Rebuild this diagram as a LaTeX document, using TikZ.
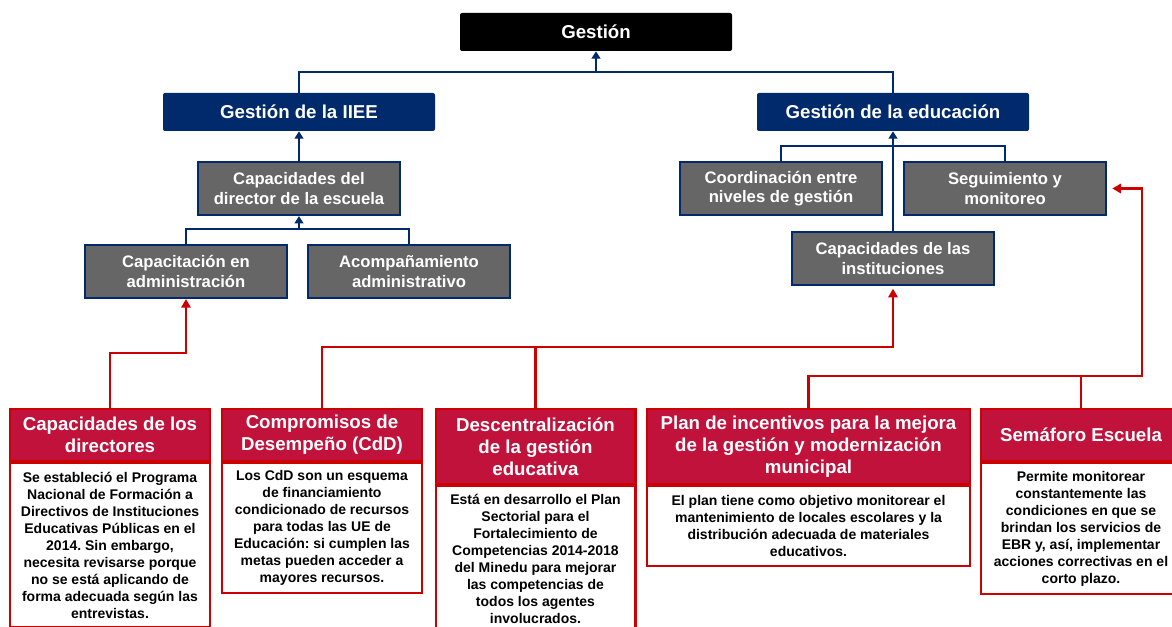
\documentclass[tikz,border=0pt]{standalone}
\usepackage{fontspec}
\setmainfont{Liberation Sans}
\usepackage{xcolor}
\usetikzlibrary{%
  arrows.meta,
  positioning,calc
}
\definecolor{navy}{RGB}{0,42,108}
\definecolor{grisbox}{RGB}{102,102,102}
\definecolor{rojohead}{RGB}{193,18,60}
\definecolor{rojoline}{RGB}{204,0,0}
\frenchspacing

\tikzset{
  rootbox/.style={fill=black,text=white,rounded corners=1.5pt,inner sep=0pt,
    minimum width=204pt,minimum height=28.5pt,font=\bfseries\fontsize{14}{16.5}\selectfont},
  areabox/.style={rootbox,fill=navy},
  capbox/.style={fill=grisbox,draw=navy,line width=1.8pt,text=white,inner sep=0pt,
    align=center,minimum width=151.2pt,minimum height=39.5pt,
    font=\bfseries\fontsize{12.5}{14.5}\selectfont},
  headbox/.style={fill=rojohead,draw=rojoline,line width=1.8pt,text=white,inner sep=0pt,
    align=center,anchor=north,minimum width=149.7pt,minimum height=38.7pt,
    font=\bfseries\fontsize{14}{16.5}\selectfont},
  bodybox/.style={fill=white,draw=rojoline,line width=1.8pt,inner sep=0pt,
    align=center,anchor=north,minimum width=149.7pt,
    font=\bfseries\fontsize{10.5}{12.75}\selectfont},
  bluelink/.style={draw=navy,line width=1.6pt},
  bluearrow/.style={bluelink,-{Triangle[length=5.5pt,width=6.5pt]}},
  redlink/.style={draw=rojoline,line width=1.6pt},
  redarrow/.style={redlink,-{Triangle[length=6.5pt,width=7pt]}}
}

\begin{document}
\begin{tikzpicture}[x=0.75pt,y=-0.75pt]
  \useasboundingbox (0,0) rectangle (1172,627);

  % arbol de gestion
  \node[rootbox] (gestion) at (596,32) {Gesti\'on};
  \node[areabox] (iiee) at (299,112) {Gesti\'on de la IIEE};
  \node[areabox] (educ) at (893,112) {Gesti\'on de la educaci\'on};

  \node[capbox] (director) at (299,188.5) {Capacidades del\\director de la escuela};
  \node[capbox] (capacit) at (186,271.5) {Capacitaci\'on en\\administraci\'on};
  \node[capbox] (acomp) at (409,271.5) {Acompa\~namiento\\administrativo};

  \node[capbox] (coord) at (781,188.5) {Coordinaci\'on entre\\niveles de gesti\'on};
  \node[capbox] (segui) at (1005,188.5) {Seguimiento y\\monitoreo};
  \node[capbox] (instit) at (893,258.5) {Capacidades de las\\instituciones};

  \coordinate (busA) at (596,72);
  \coordinate (busB) at (299,229);
  \coordinate (busC) at (893,146);
  \draw[bluelink] (iiee.north) |- (busA) -| (educ.north);
  \draw[bluearrow] (busA) -- (gestion.south);
  \draw[bluearrow] (director.north) -- (iiee.south);
  \draw[bluelink] (capacit.north) |- (busB) -| (acomp.north);
  \draw[bluearrow] (busB) -- (director.south);
  \draw[bluelink] (coord.north) |- (busC) -| (segui.north);
  \draw[bluearrow] (instit.north) -- (educ.south);

  % fichas de politicas
  \node[headbox] (h1) at (110,408) {Capacidades de los\\directores};
  \node[bodybox,minimum height=123pt] (b1) at (h1.south)
    {Se estableci\'o el Programa\\Nacional de Formaci\'on a\\Directivos de Instituciones\\
     Educativas P\'ublicas en el\\2014. Sin embargo,\\necesita revisarse porque\\
     no se est\'a aplicando de\\forma adecuada seg\'un las\\entrevistas.};

  \node[headbox] (h2) at (322,408) {Compromisos de\\Desempe\~no (CdD)};
  \node[bodybox,minimum height=97.5pt] (b2) at (h2.south)
    {Los CdD son un esquema\\de financiamiento\\condicionado de recursos\\
     para todas las UE de\\Educaci\'on: si cumplen las\\metas pueden acceder a\\
     mayores recursos.};

  \node[headbox,minimum height=56pt] (h3) at (535.5,408)
    {Descentralizaci\'on\\de la gesti\'on\\educativa};
  \node[bodybox,minimum height=109.5pt] (b3) at (h3.south)
    {Est\'a en desarrollo el Plan\\Sectorial para el\\Fortalecimiento de\\
     Competencias 2014-2018\\del Minedu para mejorar\\las competencias de\\
     todos los agentes\\involucrados.};

  \node[headbox,minimum width=242pt,minimum height=56pt] (h4) at (808.5,408)
    {Plan de incentivos para la mejora\\de la gesti\'on y modernizaci\'on\\municipal};
  \node[bodybox,minimum width=242pt,minimum height=60pt] (b4) at (h4.south)
    {El plan tiene como objetivo monitorear el\\mantenimiento de locales escolares y la\\
     distribuci\'on adecuada de materiales\\educativos.};

  \node[headbox] (h5) at (1081,408) {Sem\'aforo Escuela};
  \node[bodybox,minimum height=98.25pt] (b5) at (h5.south)
    {Permite monitorear\\constantemente las\\condiciones en que se\\
     brindan los servicios de\\EBR y, as\'i, implementar\\acciones correctivas en el\\
     corto plazo.};

  \coordinate (jA) at (186,353);
  \coordinate (jB) at (893,347);
  \coordinate (jC) at (1142,376);
  \draw[redarrow] (h1.north) |- (jA) -- (capacit.south);
  \draw[redarrow,shorten >=2pt] (h2.north) |- (jB) -- (instit.south);
  \draw[redlink] (h3.north) -- (h3.north |- jB);
  \draw[redarrow,shorten >=4pt] (h4.north) |- (jC) |- (segui.east);
  \draw[redlink] (h5.north) -- (h5.north |- jC);
\end{tikzpicture}
\end{document}
